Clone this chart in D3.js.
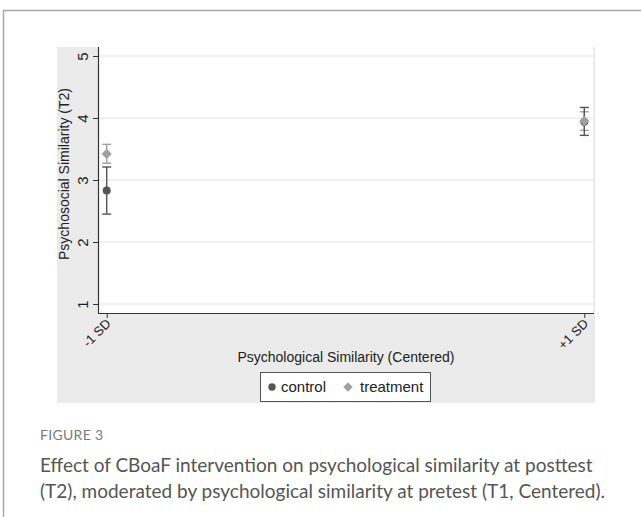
<!DOCTYPE html>
<html>
<head>
<meta charset="utf-8">
<script src="https://cdn.jsdelivr.net/npm/d3@7"></script>
<style>
  body { margin: 0; background: #fff; }
  svg text { font-family: "Liberation Sans", Arial, sans-serif; }
  .cap { font-family: Lato, "Open Sans", sans-serif; }
</style>
</head>
<body>
<svg id="chart" width="641" height="517"></svg>
<script>
// data
var groups = ["control", "treatment"];
var xTicks = [-1, 1];
var xTickLabels = ["-1 SD", "+1 SD"];
var yTicks = [1, 2, 3, 4, 5];
var controlMean = [2.83, 3.94];
var controlLo = [2.45, 3.72];
var controlHi = [3.21, 4.17];
var treatMean = [3.42, 3.95];
var treatLo = [3.27, 3.80];
var treatHi = [3.575, 4.10];

var colors = {control: "#555555", treatment: "#a0a0a0"};

var svg = d3.select("#chart");

// outer frame of the figure
svg.append("path")
  .attr("d", "M3.5,517 V10.5 H641")
  .attr("fill", "none")
  .attr("stroke", "#a8a8a8")
  .attr("stroke-width", 1.5);

// graph background
svg.append("rect")
  .attr("x", 57).attr("y", 47)
  .attr("width", 538).attr("height", 356)
  .attr("fill", "#ebebeb");

var pLeft = 98, pRight = 594, pTop = 47, pBottom = 313;

svg.append("rect")
  .attr("x", pLeft).attr("y", pTop)
  .attr("width", pRight - pLeft).attr("height", pBottom - pTop)
  .attr("fill", "#fff");

var x = d3.scaleLinear().domain([-1, 1]).range([106.7, 584.3]);
var y = d3.scaleLinear().domain([1, 5]).range([304, 56]);

// gridlines
svg.append("g").selectAll("line")
  .data(yTicks)
  .enter().append("line")
  .attr("x1", pLeft).attr("x2", pRight)
  .attr("y1", function(d) { return y(d); })
  .attr("y2", function(d) { return y(d); })
  .attr("stroke", "#e4e4e4")
  .attr("stroke-width", 1.2);

svg.append("line")
  .attr("x1", pRight).attr("x2", pRight)
  .attr("y1", pTop).attr("y2", pBottom)
  .attr("stroke", "#e4e4e4")
  .attr("stroke-width", 1.2);

// y axis
var yAxis = svg.append("g")
  .attr("transform", "translate(" + pLeft + ",0)")
  .call(d3.axisLeft(y).tickValues(yTicks).tickSize(5).tickFormat(d3.format("d")));
yAxis.select(".domain").attr("d", "M0.5," + pTop + "V" + pBottom).attr("stroke", "#333");
yAxis.selectAll(".tick line").attr("stroke", "#333");
yAxis.selectAll(".tick text")
  .attr("x", null).attr("dy", null)
  .attr("transform", "translate(-10,0) rotate(-90)")
  .attr("text-anchor", "middle")
  .style("font-size", "15px")
  .attr("fill", "#222");

// x axis
var xAxis = svg.append("g")
  .attr("transform", "translate(0," + pBottom + ")")
  .call(d3.axisBottom(x).tickValues(xTicks).tickSize(5)
    .tickFormat(function(d, i) { return xTickLabels[i]; }));
xAxis.select(".domain").attr("d", "M" + pLeft + ",0.5H" + pRight).attr("stroke", "#333");
xAxis.selectAll(".tick line").attr("stroke", "#333");
xAxis.selectAll(".tick text")
  .attr("y", null).attr("dy", null)
  .attr("transform", "translate(2,9) rotate(-45)")
  .attr("text-anchor", "end")
  .attr("dominant-baseline", "middle")
  .style("font-size", "13px")
  .attr("fill", "#222");
svg.selectAll(".domain").attr("stroke-width", 1.2);

// axis titles
svg.append("text")
  .attr("transform", "translate(69,174) rotate(-90)")
  .attr("text-anchor", "middle")
  .attr("font-size", 14)
  .attr("fill", "#222")
  .text("Psychosocial Similarity (T2)");

svg.append("text")
  .attr("x", (pLeft + pRight) / 2)
  .attr("y", 362)
  .attr("text-anchor", "middle")
  .attr("font-size", 14)
  .attr("fill", "#222")
  .text("Psychological Similarity (Centered)");

// confidence intervals
function drawCI(lo, hi, color) {
  var g = svg.append("g").attr("stroke", color).attr("stroke-width", 1.4).attr("fill", "none");
  xTicks.forEach(function(xv, i) {
    g.append("line").attr("x1", x(xv)).attr("x2", x(xv)).attr("y1", y(lo[i])).attr("y2", y(hi[i]));
    g.append("line").attr("x1", x(xv) - 4.5).attr("x2", x(xv) + 4.5).attr("y1", y(lo[i])).attr("y2", y(lo[i]));
    g.append("line").attr("x1", x(xv) - 4.5).attr("x2", x(xv) + 4.5).attr("y1", y(hi[i])).attr("y2", y(hi[i]));
  });
}
drawCI(treatLo, treatHi, colors.treatment);
drawCI(controlLo, controlHi, colors.control);

// points
svg.append("g").selectAll("circle")
  .data(controlMean)
  .enter().append("circle")
  .attr("cx", function(d, i) { return x(xTicks[i]); })
  .attr("cy", function(d) { return y(d); })
  .attr("r", 4)
  .attr("fill", colors.control);

var diamond = d3.symbol().type(d3.symbolDiamond2).size(66);
svg.append("g").selectAll("path")
  .data(treatMean)
  .enter().append("path")
  .attr("d", diamond)
  .attr("transform", function(d, i) { return "translate(" + x(xTicks[i]) + "," + y(d) + ")"; })
  .attr("fill", colors.treatment);

// legend
var lg = svg.append("g");
lg.append("rect")
  .attr("x", 260.5).attr("y", 372.5)
  .attr("width", 170).attr("height", 29)
  .attr("fill", "#fff")
  .attr("stroke", "#555");
lg.append("circle").attr("cx", 272).attr("cy", 387).attr("r", 3.7).attr("fill", colors.control);
lg.append("text").attr("x", 281).attr("y", 392).attr("font-size", 15).attr("fill", "#222").text(groups[0]);
lg.append("path").attr("d", d3.symbol().type(d3.symbolDiamond2).size(55))
  .attr("transform", "translate(348,387)").attr("fill", colors.treatment);
lg.append("text").attr("x", 360).attr("y", 392).attr("font-size", 15).attr("fill", "#222").text(groups[1]);

// caption
svg.append("text")
  .attr("class", "cap")
  .attr("x", 40).attr("y", 440)
  .attr("font-size", 14)
  .attr("fill", "#7a7a7a")
  .attr("letter-spacing", 0.3)
  .text("FIGURE 3");

svg.append("text")
  .attr("class", "cap")
  .attr("x", 40).attr("y", 472)
  .attr("font-size", 19)
  .attr("fill", "#555")
  .text("Effect of CBoaF intervention on psychological similarity at posttest");

svg.append("text")
  .attr("class", "cap")
  .attr("x", 40).attr("y", 498)
  .attr("font-size", 19)
  .attr("fill", "#555")
  .text("(T2), moderated by psychological similarity at pretest (T1, Centered).");
</script>
</body>
</html>
